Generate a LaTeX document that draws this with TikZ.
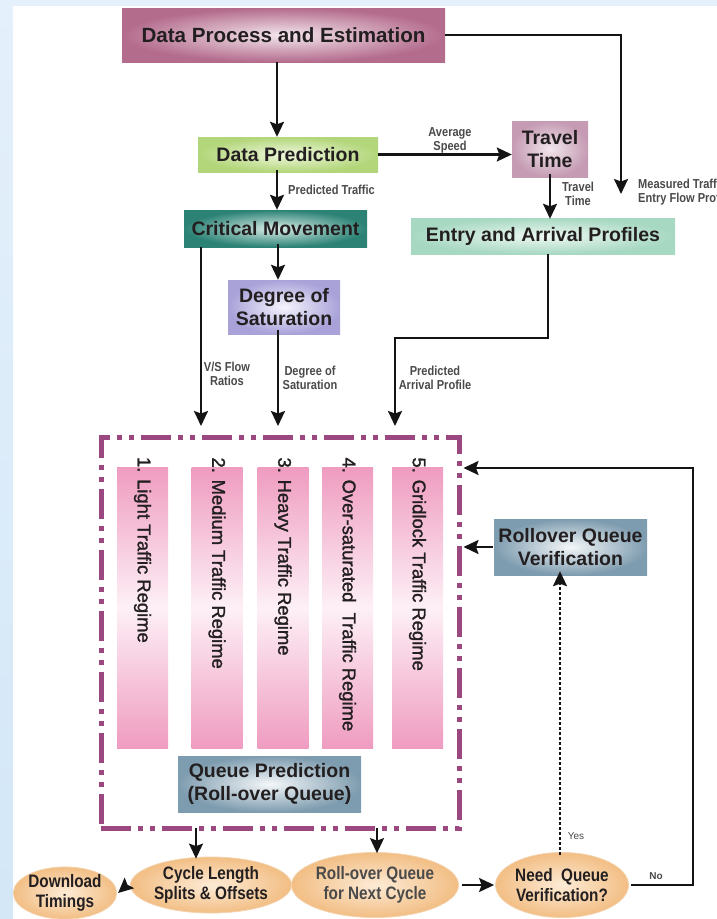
\documentclass[tikz,border=0pt]{standalone}
\usepackage{fontspec}
\setmainfont{Liberation Sans}
\newfontfamily\narrowfont[FakeStretch=0.85]{Liberation Sans}
\newfontfamily\regfont[FakeBold=1.5]{Liberation Sans}
\usetikzlibrary{arrows.meta,shapes.geometric}

\definecolor{bgblue}{HTML}{D3E7F7}
\definecolor{bgtop}{HTML}{E4F0FB}
\definecolor{framecol}{HTML}{9B4881}
\definecolor{txt}{HTML}{231F20}
\definecolor{lbl}{HTML}{4A4A4A}
\definecolor{peachin}{HTML}{FDEBD6}
\definecolor{peachout}{HTML}{F2BE84}
\definecolor{peachline}{HTML}{F3D3AE}
\definecolor{mauvein}{HTML}{F3E6EC}
\definecolor{mauveout}{HTML}{B46C8D}
\definecolor{greenin}{HTML}{EEF7DD}
\definecolor{greenout}{HTML}{B3D67A}
\definecolor{ttin}{HTML}{F1E6EC}
\definecolor{ttout}{HTML}{C59BB3}
\definecolor{tealin}{HTML}{D8ECE7}
\definecolor{tealout}{HTML}{2B8275}
\definecolor{mintin}{HTML}{EEF8F3}
\definecolor{mintout}{HTML}{A7D8C2}
\definecolor{lavin}{HTML}{F5F4FC}
\definecolor{lavout}{HTML}{A8A2D9}
\definecolor{pinkout}{HTML}{EF9CC0}
\definecolor{pinkmid}{HTML}{FDF0F6}
\definecolor{steelin}{HTML}{F4F7F9}
\definecolor{steelout}{HTML}{7E9CAF}

\newcommand\mainsz{\fontsize{19.5}{23}\selectfont}
\newcommand\ellsz{\fontsize{18}{20}\selectfont}
\newcommand\lblsz{\fontsize{13}{14}\selectfont}
\newcommand\regsz{\fontsize{18.4}{20}\selectfont}

\tikzset{
  procbox/.style={shading=radial, inner sep=0, align=center, text=txt,
    font=\bfseries\mainsz},
  regbar/.style={top color=pinkout, bottom color=pinkout, middle color=pinkmid,
    inner sep=0, minimum width=51, minimum height=281},
  regtext/.style={rotate=-90, anchor=west, inner sep=0, text=txt, font=\regfont\regsz},
  oval/.style={ellipse, shading=radial, inner color=peachin, outer color=peachout,
    draw=peachline, line width=0.8, inner sep=0, align=center, text=txt,
    font=\narrowfont\bfseries\ellsz},
  flowlabel/.style={inner sep=0, align=center, text=lbl, font=\narrowfont\bfseries\lblsz},
  link/.style={line width=2.1pt, draw=black!92},
  tip/.style={-{Stealth[length=15pt,width=14pt,inset=2.5pt]}},
  arr/.style={link, tip},
  regframe/.style={draw=framecol, line width=5pt,
    dash pattern=on 30pt off 7pt on 5pt off 7pt on 5pt off 7pt},
}

\begin{document}
\begin{tikzpicture}[x=1pt,y=-1pt]
\useasboundingbox (0,0) rectangle (717,919);
\clip (0,0) rectangle (717,919);

% page background: pale blue margin on the left and along the top
\shade[top color=bgtop, bottom color=bgblue] (0,0) rectangle (717,919);
\fill[white] (13,6) rectangle (717,919);

% helper columns and rows for the connectors
\coordinate (xa)  at (277,0);
\coordinate (xvs) at (201,0);
\coordinate (xds) at (278,0);
\coordinate (xpa) at (395,0);
\coordinate (xen) at (548,0);
\coordinate (xmt) at (621,0);
\coordinate (xno) at (693,0);
\coordinate (xcy) at (196,0);
\coordinate (xro) at (377,0);
\coordinate (yin) at (0,426);
\coordinate (ytn) at (0,338);
\coordinate (ymt) at (0,194);
\coordinate (yfb) at (0,468);

% process boxes
\node[procbox, inner color=mauvein, outer color=mauveout, font=\bfseries\fontsize{20.6}{24}\selectfont,
  minimum width=323, minimum height=54] (dpe) at (283.5,35) {Data Process and Estimation};
\node[procbox, inner color=greenin, outer color=greenout,
  minimum width=180, minimum height=35] (dpred) at (288,154.5) {Data Prediction};
\node[procbox, inner color=ttin, outer color=ttout,
  minimum width=76, minimum height=56] (tt) at (550,149) {Travel\\Time};
\node[procbox, inner color=tealin, outer color=tealout,
  minimum width=183, minimum height=37] (crit) at (275.5,228.5) {Critical Movement};
\node[procbox, inner color=mintin, outer color=mintout,
  minimum width=264, minimum height=36] (entry) at (543,236) {Entry and Arrival Profiles};
\node[procbox, inner color=lavin, outer color=lavout,
  minimum width=112, minimum height=54] (dsat) at (284,307) {Degree of\\Saturation};

% flow labels
\node[flowlabel] (lspeed) at (450,140) {Average\\Speed};
\node[flowlabel, anchor=west] (lpt) at (288,190) {Predicted Traffic};
\node[flowlabel] (ltt) at (578,193.5) {Travel\\Time};
\node[flowlabel, anchor=west, align=left] (lmt) at (638,192) {Measured Traffic\\Entry Flow Profile};
\node[flowlabel] (lvs) at (227,373.5) {V/S Flow\\Ratios};
\node[flowlabel] (lds) at (310,378) {Degree of\\Saturation};
\node[flowlabel] (lpa) at (435,378) {Predicted\\Arrival Profile};

% regime frame
\node[regframe, minimum width=358, minimum height=391, inner sep=0] (fr) at (280,632.5) {};

% traffic regimes
\node[regbar] (r1) at (142.5,607.5) {};
\node[regbar] (r2) at (217,608) {};
\node[regbar] (r3) at (283,608) {};
\node[regbar] (r4) at (347.5,608) {};
\node[regbar] (r5) at (417.5,608) {};
\node[regtext] (t1) at ([yshift=10]r1.north) {1. Light Traffic Regime};
\node[regtext] (t2) at ([yshift=10]r2.north) {2. Medium Traffic Regime};
\node[regtext] (t3) at ([yshift=10]r3.north) {3. Heavy Traffic Regime};
\node[regtext] (t4) at ([yshift=10]r4.north) {4. Over-saturated~~Traffic Regime};
\node[regtext] (t5) at ([yshift=10]r5.north) {5. Gridlock Traffic Regime};

\node[procbox, inner color=steelin, outer color=steelout,
  minimum width=183, minimum height=56] (qp) at (269.5,784) {Queue Prediction\\(Roll-over Queue)};
\node[procbox, inner color=steelin, outer color=steelout,
  minimum width=153, minimum height=56] (rqv) at (570.5,547) {Rollover Queue\\Verification};

% bottom decisions and outputs
\node[oval, minimum width=100, minimum height=50] (dl) at (65,893) {Download\\Timings};
\node[oval, minimum width=124, minimum height=56] (cyc) at (211,885) {Cycle Length\\Splits \& Offsets};
\node[oval, minimum width=156, minimum height=65, text=lbl] (rov) at (375,885) {Roll-over Queue\\for Next Cycle};
\node[oval, minimum width=133, minimum height=65] (nq) at (562,885) {Need~~Queue\\Verification?};
\node[inner sep=0, text=lbl, font=\fontsize{10}{12}\selectfont] (lyes) at (576,836) {Yes};
\node[inner sep=0, text=lbl, font=\bfseries\fontsize{10}{12}\selectfont] (lno) at (656,876) {No};

% connectors
\draw[arr] (dpe.south -| xa) -- (dpred.north -| xa);
\draw[arr] (dpe.east) -| (xmt |- ymt);
\draw[arr] (dpred.east) -- (dpred.east -| tt.west);
\draw[arr] ([yshift=3]tt.south) -- ([yshift=-1]entry.north -| tt.south);
\draw[arr] ([yshift=2]dpred.south -| xa) -- (crit.north -| xa);
\draw[arr] ([yshift=3]crit.south -| xds) -- (dsat.north -| xds);
\draw[arr] (crit.south -| xvs) -- (xvs |- yin);
\draw[arr] ([yshift=4]dsat.south -| xds) -- (xds |- yin);
\draw[arr] (entry.south -| xen) -- (xen |- ytn) -| (xpa |- yin);
\draw[arr] ([yshift=3]fr.south -| xcy) -- ([yshift=-2]cyc.north -| xcy);
\draw[arr] ([yshift=3]fr.south -| xro) -- ([yshift=-1]rov.north -| xro);
\draw[arr] ([xshift=-3]cyc.west) -- ([xshift=1]dl.east);
\draw[arr] ([xshift=3]rov.east) -- ([xshift=-1]nq.west);
\draw[link, tip, dash pattern=on 3pt off 2pt]
  ([xshift=-2,yshift=-3]nq.north) -- ([xshift=-2,yshift=4]rqv.south -| nq.north);
\draw[arr] ([xshift=2]nq.east) -- (xno |- nq.east) -- (xno |- yfb) -- ([xshift=2]fr.east |- yfb);
\draw[arr] ([xshift=-1]rqv.west) -- ([xshift=2]fr.east |- rqv.west);
\end{tikzpicture}
\end{document}
